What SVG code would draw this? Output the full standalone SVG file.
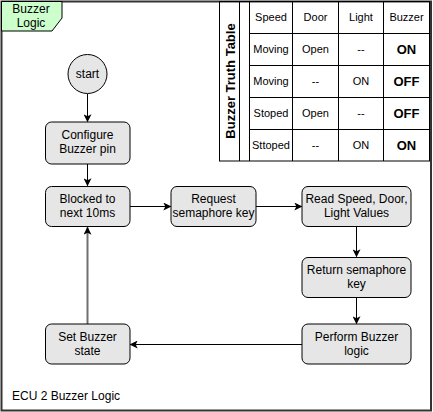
<svg xmlns="http://www.w3.org/2000/svg" width="433" height="412" viewBox="0 0 433 412">
<defs>
<marker id="arr" viewBox="0 0 10 10" refX="9" refY="5" markerWidth="8" markerHeight="8" markerUnits="userSpaceOnUse" orient="auto">
<path d="M0,0 L10,5 L0,10 L2.5,5 Z" fill="#000"/>
</marker>
</defs>
<style>
text{font-family:"Liberation Sans",Arial,sans-serif;fill:#000;text-anchor:middle}
.node{fill:#e6e6e6;stroke:#000;stroke-width:1}
.lbl{font-size:12px}
.cell{fill:none;stroke:#000;stroke-width:1}
.th{font-size:11px}
.td{font-size:11px}
.tb{font-size:13px;font-weight:bold}
.conn{fill:none;stroke:#000;stroke-width:1;marker-end:url(#arr)}
</style>
<rect x="0" y="0" width="433" height="412" fill="#fff"/>
<g id="frame">
<rect x="1.5" y="1.5" width="429.5" height="409" fill="#fff" stroke="#333" stroke-width="2"/>
<path d="M1.5,1.5 H62 V18 L52,31 H1.5 Z" fill="#ccffcc" stroke="#000" stroke-width="1"/>
<text class="lbl" x="31" y="13">Buzzer</text>
<text class="lbl" x="31" y="27">Logic</text>
<text class="lbl" x="12" y="400" style="text-anchor:start">ECU 2 Buzzer Logic</text>
</g>
<g id="truth-table">
<rect class="cell" x="219.5" y="1.5" width="210" height="159.5" fill="#fff"/>
<line class="cell" x1="239.5" y1="1.5" x2="239.5" y2="161"/>
<line class="cell" x1="249.5" y1="1.5" x2="249.5" y2="161"/>
<line class="cell" x1="292.5" y1="1.5" x2="292.5" y2="161"/>
<line class="cell" x1="338.5" y1="1.5" x2="338.5" y2="161"/>
<line class="cell" x1="383.5" y1="1.5" x2="383.5" y2="161"/>
<line class="cell" x1="249.5" y1="33.5" x2="429.5" y2="33.5"/>
<line class="cell" x1="249.5" y1="65.5" x2="429.5" y2="65.5"/>
<line class="cell" x1="249.5" y1="97.5" x2="429.5" y2="97.5"/>
<line class="cell" x1="249.5" y1="129.5" x2="429.5" y2="129.5"/>
<text x="229.5" y="86" transform="rotate(-90 229.5 81)" style="font-size:13px;font-weight:bold">Buzzer Truth Table</text>
<text class="th" x="271" y="21">Speed</text>
<text class="th" x="315.5" y="21">Door</text>
<text class="th" x="361" y="21">Light</text>
<text class="th" x="406.5" y="21">Buzzer</text>
<text class="td" x="271" y="53">Moving</text>
<text class="td" x="315.5" y="53">Open</text>
<text class="td" x="361" y="53">--</text>
<text class="tb" x="406.5" y="54">ON</text>
<text class="td" x="271" y="85">Moving</text>
<text class="td" x="315.5" y="85">--</text>
<text class="td" x="361" y="85">ON</text>
<text class="tb" x="406.5" y="86">OFF</text>
<text class="td" x="271" y="117">Stoped</text>
<text class="td" x="315.5" y="117">Open</text>
<text class="td" x="361" y="117">--</text>
<text class="tb" x="406.5" y="118">OFF</text>
<text class="td" x="271" y="149">Sttoped</text>
<text class="td" x="315.5" y="149">--</text>
<text class="td" x="361" y="149">ON</text>
<text class="tb" x="406.5" y="150">ON</text>
</g>
<g id="connectors">
<line class="conn" x1="87.5" y1="94" x2="87.5" y2="121.5"/>
<line class="conn" x1="87.5" y1="164" x2="87.5" y2="185.5"/>
<line class="conn" x1="130" y1="206.5" x2="170.5" y2="206.5"/>
<line class="conn" x1="256" y1="206.5" x2="301.5" y2="206.5"/>
<line class="conn" x1="356.5" y1="227" x2="356.5" y2="256.5"/>
<line class="conn" x1="356.5" y1="298" x2="356.5" y2="323.5"/>
<line class="conn" x1="302" y1="344.5" x2="130.5" y2="344.5"/>
<line class="conn" x1="87.5" y1="324" x2="87.5" y2="227.5" style="stroke:#707070;stroke-width:2"/>
</g>
<g id="start">
<circle cx="87.5" cy="74" r="19.5" fill="#e6e6e6" stroke="#000"/>
<text class="lbl" x="87.5" y="78">start</text>
</g>
<g id="configure">
<rect class="node" x="45.5" y="122" width="84.5" height="42" rx="6"/>
<text class="lbl" x="87.5" y="139">Configure</text>
<text class="lbl" x="87.5" y="153">Buzzer pin</text>
</g>
<g id="blocked">
<rect class="node" x="45.5" y="186.5" width="84.5" height="40" rx="6"/>
<text class="lbl" x="87.5" y="203">Blocked to</text>
<text class="lbl" x="87.5" y="217">next 10ms</text>
</g>
<g id="request">
<rect class="node" x="171" y="186.5" width="85" height="40" rx="6"/>
<text class="lbl" x="213.5" y="203">Request</text>
<text class="lbl" x="213.5" y="217">semaphore key</text>
</g>
<g id="read">
<rect class="node" x="302" y="186.5" width="109" height="40" rx="6"/>
<text class="lbl" x="356.5" y="203">Read Speed, Door,</text>
<text class="lbl" x="356.5" y="217">Light Values</text>
</g>
<g id="return">
<rect class="node" x="302" y="257.5" width="109" height="40" rx="6"/>
<text class="lbl" x="356.5" y="274">Return semaphore</text>
<text class="lbl" x="356.5" y="288">key</text>
</g>
<g id="perform">
<rect class="node" x="302" y="324" width="109" height="40" rx="6"/>
<text class="lbl" x="356.5" y="340.5">Perform Buzzer</text>
<text class="lbl" x="356.5" y="354.5">logic</text>
</g>
<g id="set">
<rect class="node" x="45.5" y="324" width="84.5" height="40" rx="6"/>
<text class="lbl" x="87.5" y="340.5">Set Buzzer</text>
<text class="lbl" x="87.5" y="354.5">state</text>
</g>
</svg>
